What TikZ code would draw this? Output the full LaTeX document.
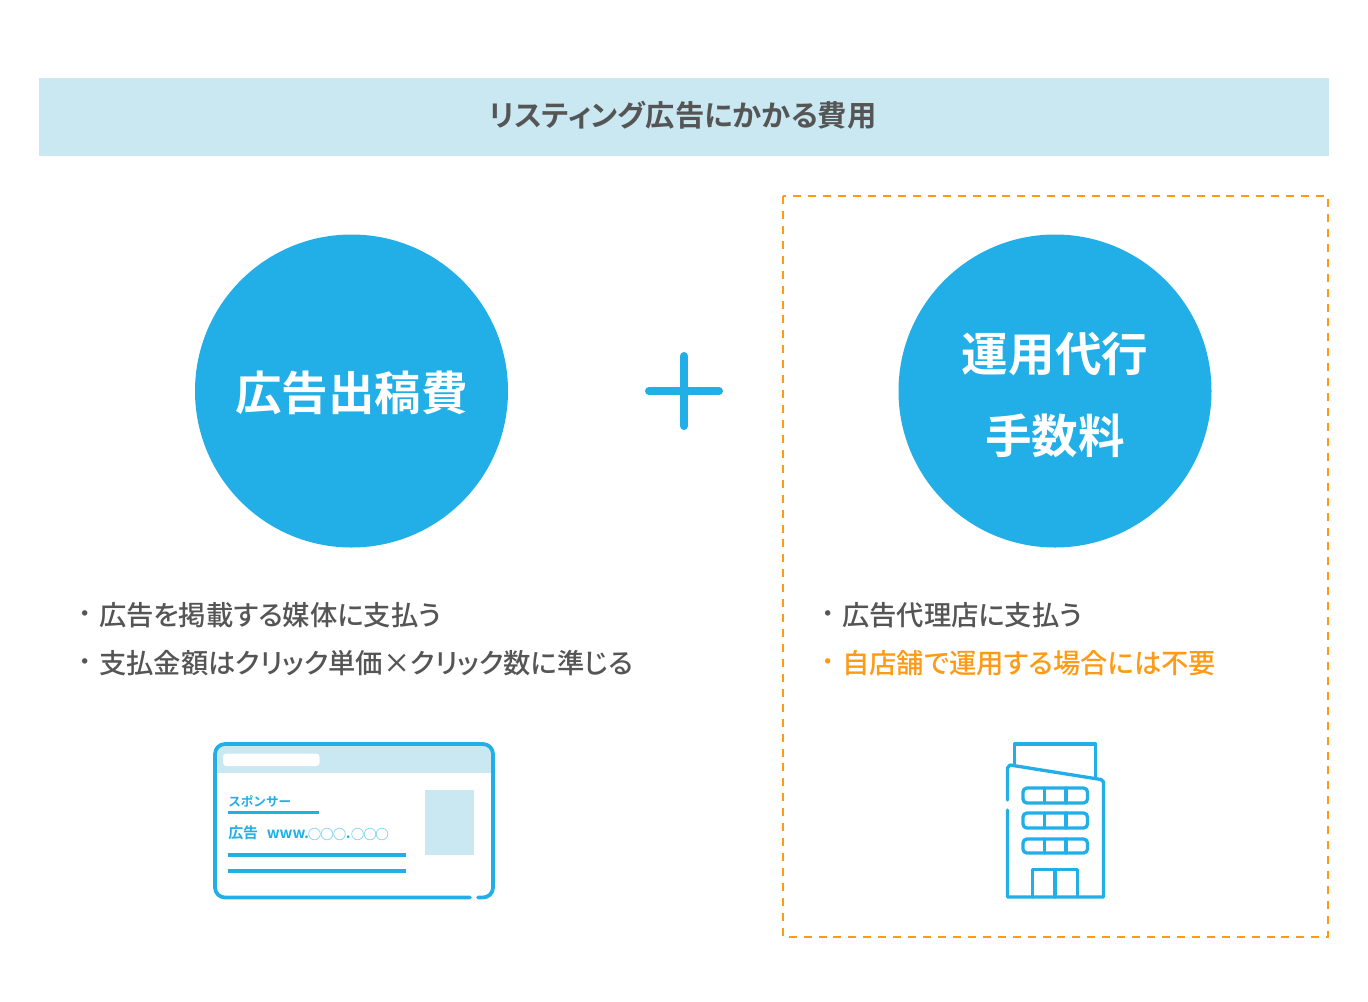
\documentclass[tikz,border=0pt]{standalone}
\usepackage{fontspec}
\setmainfont[BoldFont={Noto Sans CJK JP Bold}]{Noto Sans CJK JP}
\newfontfamily\medfont[UprightFont={* Medium},BoldFont={* Bold},RawFeature=+palt]{Noto Sans CJK JP}
\definecolor{skyb}{HTML}{22AEE6}
\definecolor{pale}{HTML}{CAE8F2}
\definecolor{orng}{HTML}{FF9A14}
\definecolor{txtg}{HTML}{555555}
\tikzset{
  band/.style={fill=pale,draw=none},
  lab/.style={inner sep=0pt,outer sep=0pt,text=txtg,anchor=center},
  body/.style={lab,anchor=west,font=\medfont\fontsize{20.5pt}{24pt}\selectfont},
  bul/.style={lab,font=\bfseries\fontsize{16pt}{24pt}\selectfont},
  big/.style={inner sep=0pt,text=white,font=\bfseries\fontsize{34.9pt}{40pt}\selectfont},
  disc/.style={circle,fill=skyb,draw=none,minimum size=234.75pt,inner sep=0pt},
  ico/.style={draw=skyb,line width=2.8pt,line join=round,line cap=round},
  bld/.style={draw=skyb,line width=2.5pt,line join=round,line cap=round},
  rulebar/.style={draw=skyb,line width=2.3pt,line join=round},
  adtext/.style={inner sep=0pt,anchor=west,text=skyb},
  adbase/.style={inner sep=0pt,anchor=base west,text=skyb,font=\bfseries\fontsize{11.2pt}{12pt}\selectfont},
}
\begin{document}
\begin{tikzpicture}[x=0.75pt,y=-0.75pt]
\useasboundingbox (0,0) rectangle (1368,1001);
\node[band,anchor=north west,minimum width=967.5pt,minimum height=58.5pt,inner sep=0pt] (titleband) at (39,78) {};
\node[lab,font=\medfont\bfseries\fontsize{22pt}{24pt}\selectfont] (title) at (683,115) {リスティング広告にかかる費用};
\draw[orng,line width=1.5pt,dash pattern=on 6pt off 5.2pt] (783,196) rectangle (1328,937);
\node[disc] (c1) at (351.5,391) {};
\node[big] (c1t) at (351.5,393) {広告出稿費};
\node[disc] (c2) at (1055,391) {};
\node[big] (c2a) at (1055,354) {運用代行};
\node[big] (c2b) at (1055,436) {手数料};
\draw[skyb,line width=6pt,line cap=round] (649,391) -- (719,391);
\draw[skyb,line width=6pt,line cap=round] (684,356) -- (684,426);
\node[bul] (b1) at (85,616) {・};
\node[body] (t1) at (99,615.5) {広告を掲載する媒体に支払う};
\node[bul] (b2) at (85,664) {・};
\node[body] (t2) at (99,663.5) {支払金額はクリック単価×クリック数に準じる};
\node[bul] (b3) at (828,616) {・};
\node[body] (t3) at (842,615.5) {広告代理店に支払う};
\node[bul,text=orng] (b4) at (828,664) {・};
\node[body,text=orng] (t4) at (842,663.5) {自店舗で運用する場合には不要};
% browser card
\begin{scope}
\clip[rounded corners=7.5pt] (215,744) rectangle (493,897.5);
\fill[pale] (215,744) rectangle (493,773);
\end{scope}
\fill[white,rounded corners=2.5pt] (223,753.5) rectangle (319.5,766);
\draw[ico,rounded corners=7.5pt] (470,897.5) -- (215,897.5) -- (215,744) -- (493,744) -- (493,897.5) -- (478,897.5);
\fill[pale] (425,790) rectangle (474,855);
\node[adtext,font=\bfseries\fontsize{9.45pt}{11pt}\selectfont] (sp) at (228,801) {スポンサー};
\draw[rulebar] (228,812.5) -- (319,812.5);
\node[adbase] (ad) at (228,838.5) {広告};
\node[adbase] (www) at (266.5,838.5) {www.};
\foreach \cx in {314.5,327,339.5,357.5,370,382} {\draw[skyb!50,line width=.6pt] (\cx,834) circle[radius=5.8];}
\node[adbase] (dot) at (345.5,838.5) {.};
\draw[rulebar] (228,855) -- (406,855);
\draw[rulebar] (228,871) -- (406,871);
% building
\draw[bld] (1014.5,764) -- (1014.5,744) -- (1095.5,744) -- (1095.5,778);
\draw[bld] (1007.5,800) -- (1007.5,768) -- (1010,765) -- (1101,779.5) -- (1103.5,782) -- (1103.5,897) -- (1007.5,897) -- (1007.5,810);
\foreach \ya/\yb in {788/803,813/828,839/853} {
  \draw[bld,rounded corners=3pt] (1023,\ya) rectangle (1087.5,\yb);
  \draw[bld] (1044.5,\ya) -- (1044.5,\yb);
  \draw[bld] (1066,\ya) -- (1066,\yb);
}
\draw[bld] (1032.5,897) -- (1032.5,869.5) -- (1077.5,869.5) -- (1077.5,897);
\draw[bld] (1055,869.5) -- (1055,897);
\end{tikzpicture}
\end{document}
